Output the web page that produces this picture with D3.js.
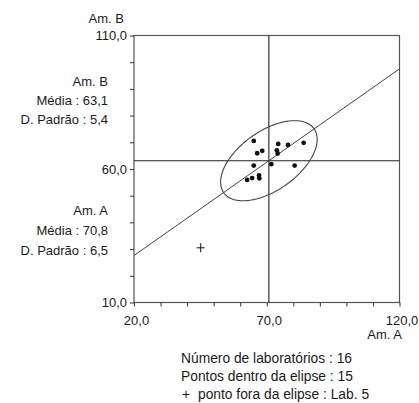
<!DOCTYPE html>
<html><head><meta charset="utf-8">
<script src="https://cdn.jsdelivr.net/npm/d3@7"></script>
<style>
body{margin:0;background:#fff;}
text{font-family:"Liberation Sans",Arial,sans-serif;fill:#1a1a1a;}
</style></head>
<body>
<svg id="chart" width="419" height="403"></svg>
<script>
// ---- data ----
const labA = [65.1, 66.4, 68.3, 74.3, 78.0, 83.9, 73.8, 74.1, 65.1, 71.7, 80.5, 62.6, 64.5, 67.1, 67.2];
const labB = [70.5, 65.9, 66.8, 69.4, 69.0, 69.8, 67.0, 65.8, 61.3, 61.8, 61.3, 55.9, 56.6, 57.6, 56.5];
const outA = [45.1];
const outB = [30.5];
const meanA = 70.8, meanB = 63.1, sdA = 6.5, sdB = 5.4;
const fitA = [20, 120];
const fitB = [27.6, 97.5];
const ellipseAxes = [20.8, 11.1];   // semi-major, semi-minor (data units)
const ellipseAngle = [35];          // degrees
const xTicks = [20, 30, 40, 50, 60, 70, 80, 90, 100, 110, 120];
const xTickLabels = [20, 70, 120];
const yTicks = [10, 20, 30, 40, 50, 60, 70, 80, 90, 100, 110];
const yTickLabels = [10, 60, 110];
const statsB = ["Am. B", "Média : 63,1", "D. Padrão : 5,4"];
const statsA = ["Am. A", "Média : 70,8", "D. Padrão : 6,5"];
const footer = ["Número de laboratórios : 16", "Pontos dentro da elipse : 15"];
const footerOut = ["+", "ponto fora da elipse : Lab. 5"];

// ---- drawing ----
const svg = d3.select("#chart");
const x = d3.scaleLinear().domain([20, 120]).range([134, 399.5]);
const y = d3.scaleLinear().domain([10, 110]).range([302.5, 35.5]);
const loc = d3.formatLocale({decimal: ",", thousands: ".", grouping: [3], currency: ["", ""]});
const fmt = loc.format(".1f");
const FS = 13;

// frame
svg.append("rect").attr("x", x(20)).attr("y", y(110))
  .attr("width", x(120) - x(20)).attr("height", y(10) - y(110))
  .attr("fill", "none").attr("stroke", "#555").attr("stroke-width", 1.2);

// y axis
const ya = svg.append("g").attr("transform", `translate(${x(20)},0)`)
  .call(d3.axisLeft(y).tickValues(yTicks).tickSize(4).tickPadding(3)
    .tickFormat(d => yTickLabels.includes(d) ? fmt(d) : ""));
ya.select(".domain").remove();
ya.selectAll("line").attr("stroke", "#333");
ya.selectAll("text").attr("font-size", FS).attr("font-family", null).attr("fill", "#1a1a1a");

// x axis
const xa = svg.append("g").attr("transform", `translate(0,${y(10)})`)
  .call(d3.axisBottom(x).tickValues(xTicks).tickSize(4).tickPadding(9)
    .tickFormat(d => xTickLabels.includes(d) ? fmt(d) : ""));
xa.select(".domain").remove();
xa.selectAll("line").attr("stroke", "#333");
xa.selectAll("text").attr("font-size", FS).attr("font-family", null).attr("fill", "#1a1a1a").attr("dx", 2);

// axis titles
svg.append("text").attr("x", 124).attr("y", 23).attr("text-anchor", "end").attr("font-size", FS).text("Am. B");
svg.append("text").attr("x", 402).attr("y", 339).attr("text-anchor", "end").attr("font-size", FS).text("Am. A");

// mean lines
svg.append("line").attr("x1", x(meanA)).attr("x2", x(meanA)).attr("y1", y(110)).attr("y2", y(10))
  .attr("stroke", "#222").attr("stroke-width", 1.1);
svg.append("line").attr("x1", x(20)).attr("x2", x(120)).attr("y1", y(meanB)).attr("y2", y(meanB))
  .attr("stroke", "#222").attr("stroke-width", 1.1);

// fitted line
svg.append("line").attr("x1", x(fitA[0])).attr("y1", y(fitB[0])).attr("x2", x(fitA[1])).attr("y2", y(fitB[1]))
  .attr("stroke", "#444").attr("stroke-width", 1);

// ellipse
const phi = ellipseAngle[0] * Math.PI / 180;
const steps = d3.range(0, 121).map(i => i / 120 * 2 * Math.PI);
const ellPts = steps.map(t => [
  meanA + ellipseAxes[0] * Math.cos(t) * Math.cos(phi) - ellipseAxes[1] * Math.sin(t) * Math.sin(phi),
  meanB + ellipseAxes[0] * Math.cos(t) * Math.sin(phi) + ellipseAxes[1] * Math.sin(t) * Math.cos(phi)
]);
svg.append("path").attr("d", d3.line().x(d => x(d[0])).y(d => y(d[1]))(ellPts))
  .attr("fill", "none").attr("stroke", "#444").attr("stroke-width", 1.1);

// points
svg.append("g").selectAll("circle").data(labA.map((a, i) => [a, labB[i]])).join("circle")
  .attr("cx", d => x(d[0])).attr("cy", d => y(d[1])).attr("r", 2.4).attr("fill", "#111");

// outlier
const oc = svg.append("g").selectAll("g").data(outA.map((a, i) => [a, outB[i]])).join("g")
  .attr("transform", d => `translate(${x(d[0])},${y(d[1])})`);
oc.append("line").attr("x1", -4).attr("x2", 4).attr("stroke", "#333").attr("stroke-width", 1.2);
oc.append("line").attr("y1", -4.5).attr("y2", 4.5).attr("stroke", "#333").attr("stroke-width", 1.2);

// stats
svg.append("g").selectAll("text").data(statsB).join("text")
  .attr("x", 108).attr("y", (d, i) => [86, 105, 124][i]).attr("text-anchor", "end").attr("font-size", FS).text(d => d);
svg.append("g").selectAll("text").data(statsA).join("text")
  .attr("x", 108).attr("y", (d, i) => [215, 235, 255][i]).attr("text-anchor", "end").attr("font-size", FS).text(d => d);

// footer
const FF = 13.8;
svg.append("g").selectAll("text").data(footer).join("text")
  .attr("x", 181).attr("y", (d, i) => [362.5, 381][i]).attr("font-size", FF).text(d => d);
const fo = svg.append("text").attr("y", 399).attr("font-size", FF);
fo.append("tspan").attr("x", 182).text(footerOut[0]);
fo.append("tspan").attr("x", 198).text(footerOut[1]);
</script>
</body></html>
